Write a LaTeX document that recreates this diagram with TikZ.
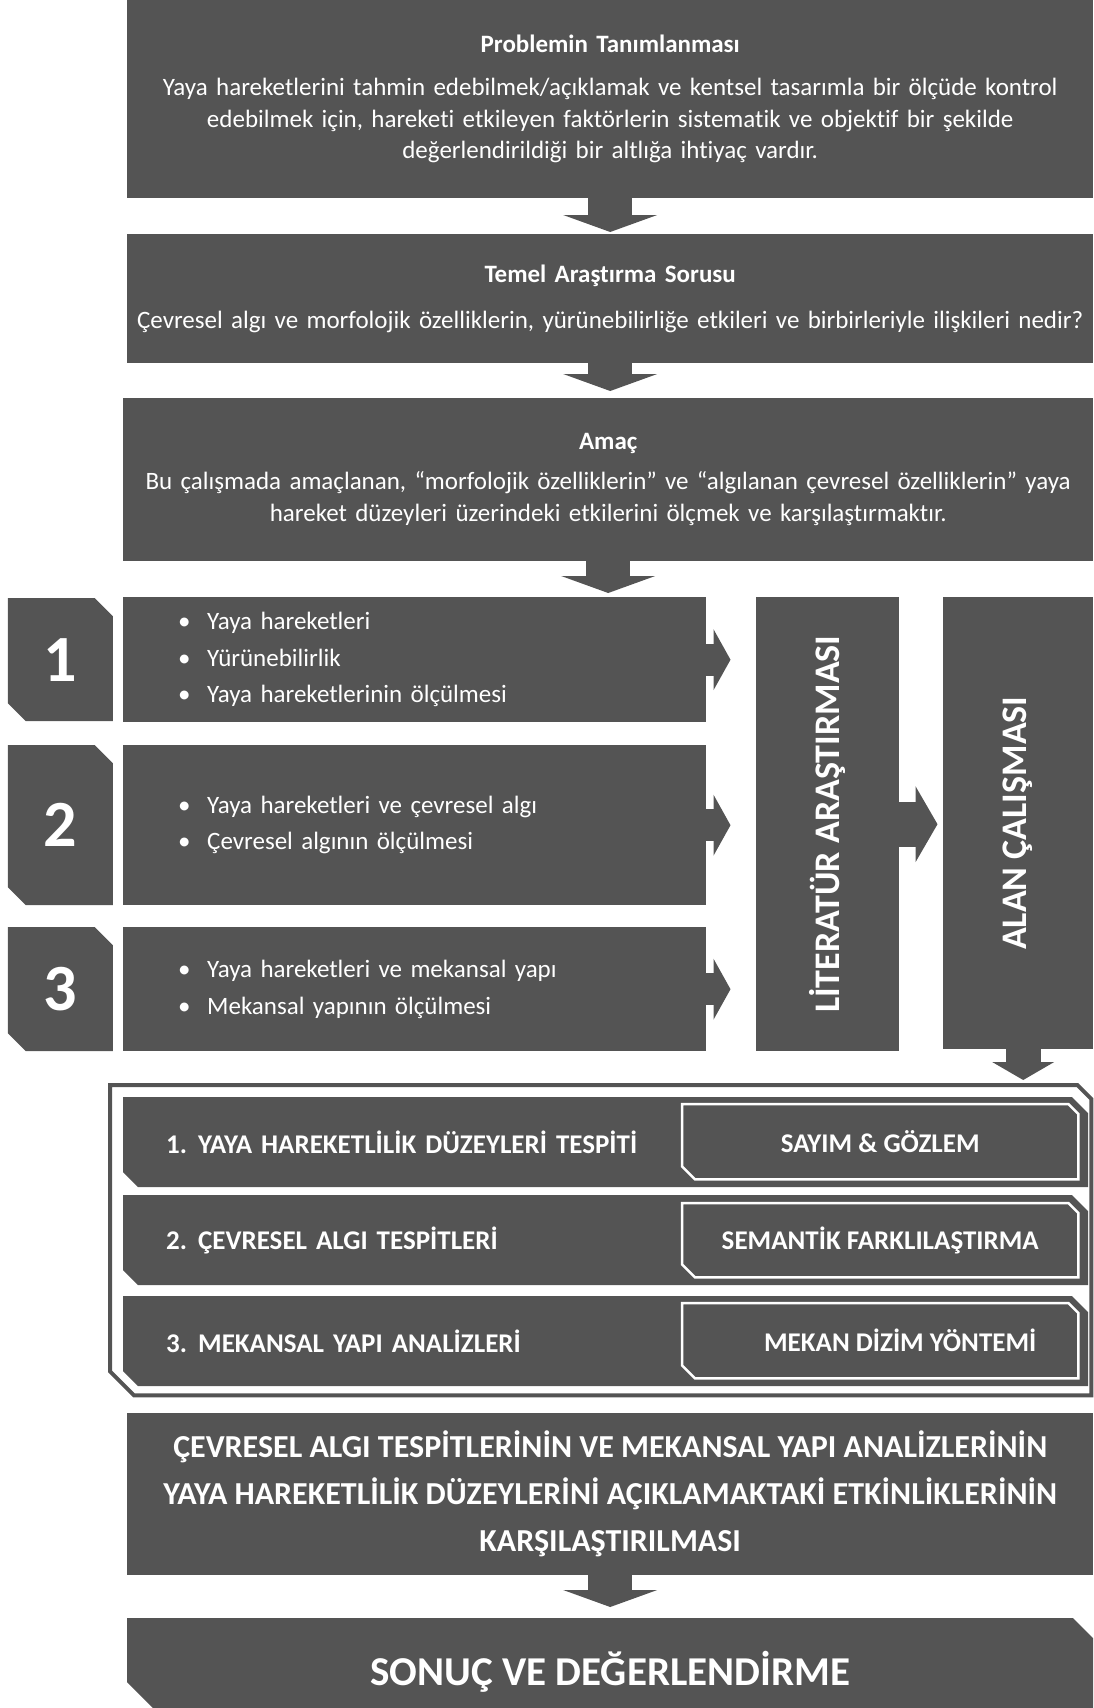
\documentclass[tikz,border=0pt]{standalone}
\usepackage{fontspec}
\setmainfont{Carlito}[Ligatures={NoCommon,NoRare,NoContextual}]
\usepackage{graphicx}
\usepackage{tikz}
\usetikzlibrary{arrows.meta,positioning}

\definecolor{koyu}{RGB}{84,84,84}

% sag ust ve sol alt koseleri pahli yol
\newcommand\pahyol[3]{(#1.north west) -- ([xshift=-#2]#1.north east) -- ([yshift=-#2]#1.north east) -- (#1.south east) -- ([xshift=#3]#1.south west) -- ([yshift=#3]#1.south west) -- cycle}

\begin{document}
\begin{tikzpicture}[
  x=1pt, y=-1pt,
  kutu/.style={rectangle, fill=koyu, text=white, inner sep=0pt, anchor=north west, align=center},
  pah/.style 2 args={rectangle, text=white, inner sep=0pt, anchor=north west,
    path picture={\fill[koyu] \pahyol{path picture bounding box}{#1}{#2};}},
  metin/.style={font=\fontsize{25}{31.5}\selectfont},
  madde/.style={font=\fontsize{25}{36.5}\selectfont, align=left},
  buyuk/.style={font=\fontsize{27}{32}\selectfont\bfseries},
  asagiok/.style={koyu, line width=44pt, -{Triangle[width=94pt,length=17pt,line width=0pt]}},
  sagok/.style={koyu, line width=32pt, -{Triangle[width=61pt,length=17pt,line width=0pt]}, shorten >=25.5pt}
]
\useasboundingbox (0,0) rectangle (1093,1708);

% ust bloklar
\node[kutu, metin, minimum width=966pt, minimum height=198pt, text width=950pt] (problem) at (127,0)
  {\textbf{Problemin Tanımlanması}\\[11.5pt]
   Yaya hareketlerini tahmin edebilmek/açıklamak ve kentsel tasarımla bir ölçüde kontrol\\
   edebilmek için, hareketi etkileyen faktörlerin sistematik ve objektif bir şekilde\\
   değerlendirildiği bir altlığa ihtiyaç vardır.};
\node[kutu, metin, minimum width=966pt, minimum height=129pt, text width=950pt] (soru) at (127,234)
  {\textbf{Temel Araştırma Sorusu}\\[14.5pt]
   Çevresel algı ve morfolojik özelliklerin, yürünebilirliğe etkileri ve birbirleriyle ilişkileri nedir?};
\node[kutu, metin, minimum width=970pt, minimum height=163pt, text width=950pt] (amac) at (123,398)
  {\textbf{Amaç}\\[8.5pt]
   Bu çalışmada amaçlanan, “morfolojik özelliklerin” ve “algılanan çevresel özelliklerin” yaya\\
   hareket düzeyleri üzerindeki etkilerini ölçmek ve karşılaştırmaktır.};

\draw[asagiok, shorten >=2pt] (problem) -- (soru);
\draw[asagiok, shorten >=7pt] (soru.south) -- (soru.south |- amac.north);

% konu kutulari
\node[kutu, madde, minimum width=583pt, minimum height=125pt, text width=473pt] (k1) at (123,597)
  {\makebox[29pt][l]{•}Yaya hareketleri\\
   \makebox[29pt][l]{•}Yürünebilirlik\\
   \makebox[29pt][l]{•}Yaya hareketlerinin ölçülmesi};
\node[kutu, madde, minimum width=583pt, minimum height=160pt, text width=473pt] (k2) at (123,745)
  {\makebox[29pt][l]{•}Yaya hareketleri ve çevresel algı\\
   \makebox[29pt][l]{•}Çevresel algının ölçülmesi};
\node[kutu, madde, minimum width=583pt, minimum height=124pt, text width=473pt] (k3) at (123,927)
  {\makebox[29pt][l]{•}Yaya hareketleri ve mekansal yapı\\
   \makebox[29pt][l]{•}Mekansal yapının ölçülmesi};

\node[pah={18pt}{18pt}, font=\fontsize{66}{66}\selectfont\bfseries, minimum width=105pt, minimum height=123pt, left=10pt of k1] (n1) {1};
\node[pah={18pt}{18pt}, font=\fontsize{66}{66}\selectfont\bfseries, minimum width=105pt, minimum height=160pt, left=10pt of k2] (n2) {2};
\node[pah={18pt}{18pt}, font=\fontsize{66}{66}\selectfont\bfseries, minimum width=105pt, minimum height=124pt, left=10pt of k3] (n3) {3};

\draw[asagiok, shorten >=4pt] (amac.south) -- (amac.south |- k1.north);

\node[kutu, font=\fontsize{36}{36}\selectfont\bfseries, minimum width=143pt, minimum height=454pt] (literatur) at (756,597)
  {\rotatebox{90}{LİTERATÜR ARAŞTIRMASI}};
\node[kutu, font=\fontsize{36}{36}\selectfont\bfseries, minimum width=150pt, minimum height=452pt] (alan) at (943,597)
  {\rotatebox{90}{ALAN ÇALIŞMASI}};

\draw[sagok] (k1.east) -- (k1.east -| literatur.west);
\draw[sagok] (k2.east) -- (k2.east -| literatur.west);
\draw[sagok] (k3.east) -- (k3.east -| literatur.west);
\draw[koyu, line width=45pt, -{Triangle[width=76pt,length=22pt,line width=0pt]}, shorten >=5.5pt]
  (literatur.east) -- (literatur.east -| alan.west);

% alan calismasi cercevesi
\node[rectangle, inner sep=0pt, anchor=north west, minimum width=981pt, minimum height=310pt] (cerceve) at (110,1085) {};
\draw[koyu, line width=4pt] \pahyol{cerceve}{14pt}{24pt};

\draw[koyu, line width=35pt, -{Triangle[width=62pt,length=18pt,line width=0pt]}, shorten >=5pt]
  ([xshift=5pt]alan.south) -- ([xshift=5pt]alan.south |- cerceve.north);

\node[pah={16pt}{15pt}, buyuk, minimum width=965pt, minimum height=90pt, text width=879pt, align=left] (s1) at (123,1097)
  {\makebox[32pt][l]{1.}YAYA HAREKETLİLİK DÜZEYLERİ TESPİTİ};
\node[pah={16pt}{15pt}, buyuk, minimum width=965pt, minimum height=90pt, text width=879pt, align=left] (s2) at (123,1195)
  {\makebox[32pt][l]{2.}ÇEVRESEL ALGI TESPİTLERİ};
\node[pah={16pt}{15pt}, buyuk, minimum width=965pt, minimum height=90pt, text width=879pt, align=left] (s3) at (123,1296)
  {\makebox[32pt][l]{3.}MEKANSAL YAPI ANALİZLERİ};

\node[rectangle, text=white, buyuk, inner sep=0pt, anchor=north west, minimum width=396pt, minimum height=75pt] (y1) at (682,1104) {SAYIM \& GÖZLEM};
\node[rectangle, text=white, buyuk, inner sep=0pt, anchor=north west, minimum width=396pt, minimum height=74pt] (y2) at (682,1203) {SEMANTİK FARKLILAŞTIRMA};
\node[rectangle, text=white, buyuk, inner sep=0pt, anchor=north west, minimum width=396pt, minimum height=75pt] (y3) at (682,1303) {\hspace*{40pt}MEKAN DİZİM YÖNTEMİ};
\draw[white, line width=2.5pt] \pahyol{y1}{10pt}{13pt};
\draw[white, line width=2.5pt] \pahyol{y2}{10pt}{13pt};
\draw[white, line width=2.5pt] \pahyol{y3}{10pt}{13pt};

% alt bloklar
\node[kutu, font=\fontsize{32}{47}\selectfont\bfseries, minimum width=966pt, minimum height=162pt] (karsi) at (127,1413)
  {ÇEVRESEL ALGI TESPİTLERİNİN VE MEKANSAL YAPI ANALİZLERİNİN\\
   YAYA HAREKETLİLİK DÜZEYLERİNİ AÇIKLAMAKTAKİ ETKİNLİKLERİNİN\\
   KARŞILAŞTIRILMASI};
\node[pah={20pt}{26pt}, font=\fontsize{41}{41}\selectfont\bfseries, text height=44pt, text depth=0pt, minimum width=966pt, minimum height=90pt] (sonuc) at (127,1618)
  {SONUÇ VE DEĞERLENDİRME};

\draw[asagiok, shorten >=11pt] (karsi) -- (sonuc);

\end{tikzpicture}
\end{document}
